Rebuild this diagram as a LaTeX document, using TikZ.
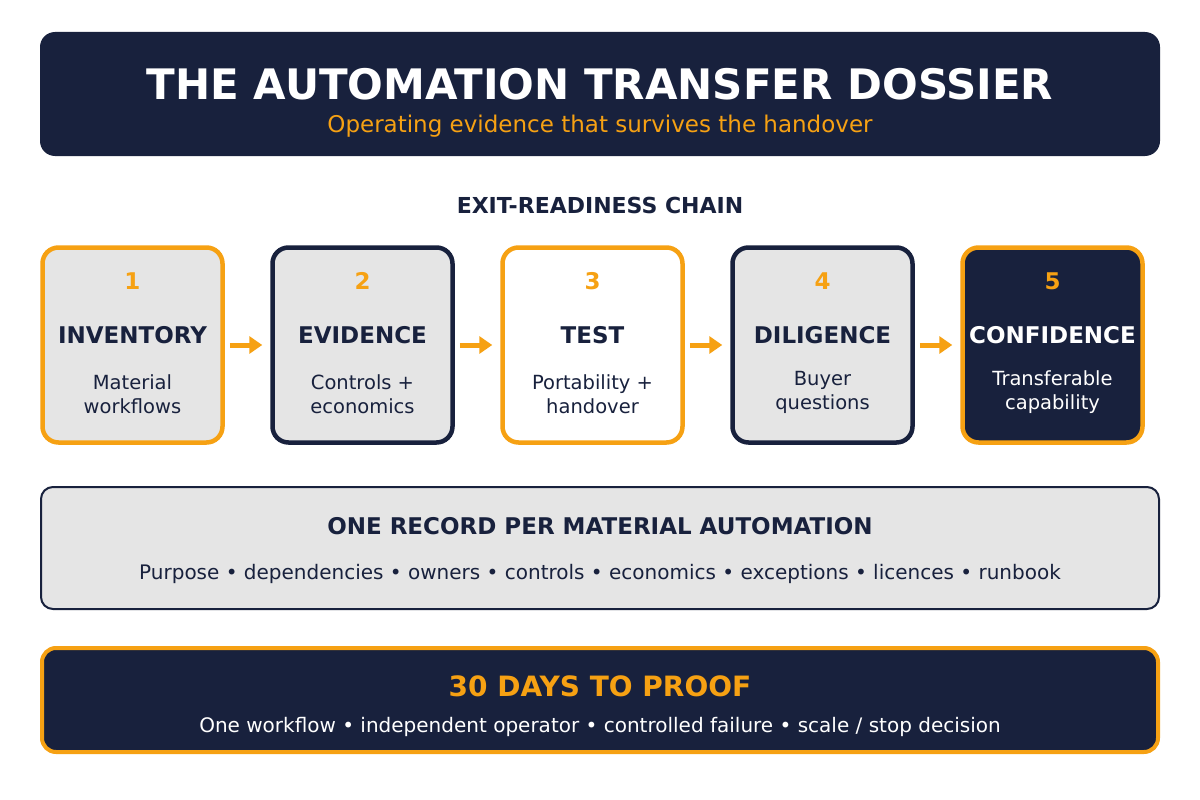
\documentclass[tikz,border=0pt]{standalone}
\usepackage{fontspec}
\setmainfont{DejaVu Sans}
\usetikzlibrary{arrows.meta}
\definecolor{navy}{HTML}{18213D}
\definecolor{amber}{HTML}{F6A113}
\definecolor{lgrey}{HTML}{E5E5E5}
\newcommand{\fs}[1]{\fontsize{#1}{#1}\selectfont}
\tikzset{
  stepbox/.style={rounded corners=16pt, line width=4.5pt, minimum width=180pt, minimum height=195pt, inner sep=0pt},
  numtxt/.style={text=amber, font=\fs{23}\bfseries},
  headtxt/.style={font=\fs{23}\bfseries},
  desctxt/.style={font=\fontsize{19.5}{24}\selectfont, align=center},
  flow/.style={amber, line width=5pt, -{Triangle[length=13pt,width=17pt]}, shorten <=5pt, shorten >=8pt},
}
\begin{document}
\begin{tikzpicture}[x=1pt,y=-1pt]
\useasboundingbox (0,0) rectangle (1200,800);
\fill[white] (0,0) rectangle (1200,800);
% header
\node[fill=navy, rounded corners=15pt, minimum width=1120pt, minimum height=124pt, inner sep=0pt] (hdr) at (600,94) {};
\node[text=white, font=\fs{42}\bfseries] (title) at (600,84) {THE AUTOMATION TRANSFER DOSSIER};
\node[text=amber, font=\fs{23}] (sub) at (600,126) {Operating evidence that survives the handover};
\node[text=navy, font=\fs{22}\bfseries] (chain) at (600,205) {EXIT-READINESS CHAIN};
% steps
\foreach \i/\dr/\fl/\tc/\num/\hd/\dsc/\dy in {
  1/amber/lgrey/navy/1/INVENTORY/{Material\\workflows}/394,
  2/navy/lgrey/navy/2/EVIDENCE/{Controls +\\economics}/394,
  3/amber/white/navy/3/TEST/{Portability +\\handover}/394,
  4/navy/lgrey/navy/4/DILIGENCE/{Buyer\\questions}/392,
  5/amber/navy/white/5/CONFIDENCE/{Transferable\\capability}/392}{
  \pgfmathsetmacro{\cx}{132.5+(\i-1)*230}
  \node[stepbox, draw=\dr, fill=\fl] (s\i) at (\cx,345) {};
  \node[numtxt] (n\i) at (\cx,281) {\num};
  \node[headtxt, text=\tc] (h\i) at (\cx,335) {\hd};
  \node[desctxt, text=\tc] (d\i) at (\cx,\dy) {\dsc};
}
\foreach \a/\b in {1/2,2/3,3/4,4/5}{
  \draw[flow] (s\a.east) -- (s\b.west);
}
% record
\node[fill=lgrey, draw=navy, line width=2pt, rounded corners=12pt, minimum width=1118pt, minimum height=122pt, inner sep=0pt] (rec) at (600,548) {};
\node[text=navy, font=\fs{23}\bfseries] (rect) at (600,526) {ONE RECORD PER MATERIAL AUTOMATION};
\node[text=navy, font=\fs{20}] (recs) at (600,574) {Purpose • dependencies • owners • controls • economics • exceptions • licences • runbook};
% proof
\node[fill=navy, draw=amber, line width=4pt, rounded corners=14pt, minimum width=1116pt, minimum height=104pt, inner sep=0pt] (proof) at (600,700) {};
\node[text=amber, font=\fs{28}\bfseries] (prooft) at (600,686) {30 DAYS TO PROOF};
\node[text=white, font=\fs{20}] (proofs) at (600,727) {One workflow • independent operator • controlled failure • scale / stop decision};
\end{tikzpicture}
\end{document}
